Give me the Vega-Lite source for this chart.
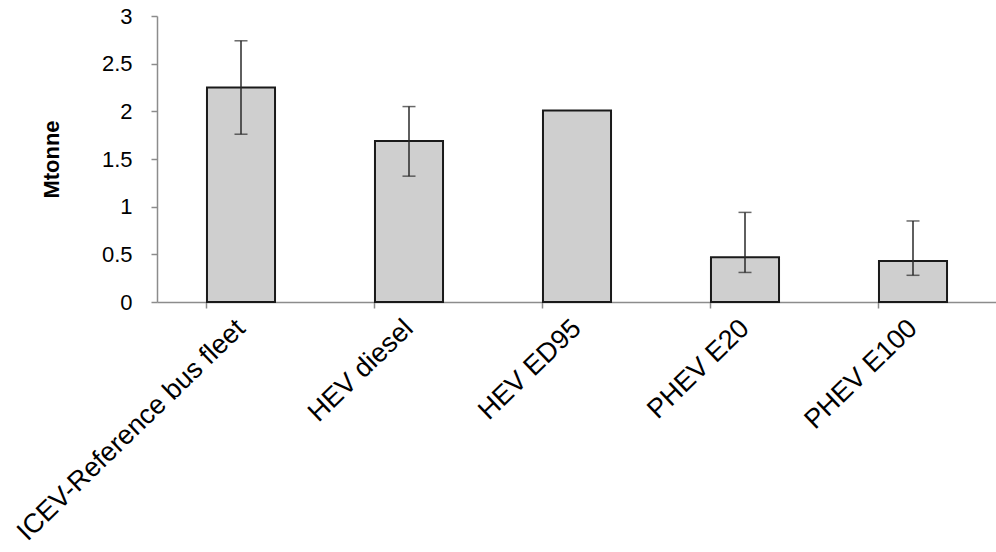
{
  "$schema": "https://vega.github.io/schema/vega-lite/v6.json",
  "autosize": "none",
  "width": 840,
  "height": 286,
  "padding": {"left": 157, "top": 16, "right": 0, "bottom": 250},
  "background": "white",
  "config": {
    "view": {"stroke": null},
    "font": "Liberation Sans",
    "axis": {"grid": false, "domainColor": "#8c8c8c", "tickColor": "#8c8c8c", "labelColor": "#000", "labelFont": "Liberation Sans", "titleFont": "Liberation Sans", "domainWidth": 1.5, "tickWidth": 1.5}
  },
  "data": {
    "values": [
      {"cat": "ICEV-Reference bus fleet", "value": 2.25, "lo": 1.76, "hi": 2.74},
      {"cat": "HEV diesel", "value": 1.69, "lo": 1.32, "hi": 2.05},
      {"cat": "HEV ED95", "value": 2.01, "lo": null, "hi": null},
      {"cat": "PHEV E20", "value": 0.47, "lo": 0.31, "hi": 0.94},
      {"cat": "PHEV E100", "value": 0.43, "lo": 0.28, "hi": 0.85}
    ]
  },
  "encoding": {
    "x": {
      "field": "cat", "type": "nominal", "sort": null,
      "scale": {"paddingInner": 0.595, "paddingOuter": 0.2975},
      "axis": {"title": null, "labelAngle": -44, "labelAlign": "right", "labelBaseline": "middle", "labelFontSize": 27, "labelPadding": 16, "tickSize": 6, "bandPosition": 0, "labelBound": false, "labelOverlap": false, "labelLimit": 500}
    }
  },
  "layer": [
    {
      "mark": {"type": "bar", "fill": "#cfcfcf", "stroke": "#1a1a1a", "strokeWidth": 2},
      "encoding": {
        "y": {
          "field": "value", "type": "quantitative",
          "scale": {"domain": [0, 3], "nice": false},
          "axis": {"title": "Mtonne", "titleFontSize": 22, "titleFontWeight": "bold", "titleColor": "#000", "titlePadding": 38, "values": [0, 0.5, 1, 1.5, 2, 2.5, 3], "labelFontSize": 22, "tickSize": 6, "labelPadding": 19, "format": "~g"}
        }
      }
    },
    {
      "transform": [{"filter": "datum.lo != null"}],
      "mark": {"type": "rule", "color": "#2a2a2a", "strokeWidth": 1.5},
      "encoding": {"y": {"field": "lo", "type": "quantitative"}, "y2": {"field": "hi"}}
    },
    {
      "transform": [{"filter": "datum.lo != null"}],
      "mark": {"type": "tick", "color": "#2a2a2a", "thickness": 1.5, "size": 13, "orient": "horizontal"},
      "encoding": {"y": {"field": "hi", "type": "quantitative"}}
    },
    {
      "transform": [{"filter": "datum.lo != null"}],
      "mark": {"type": "tick", "color": "#2a2a2a", "thickness": 1.5, "size": 13, "orient": "horizontal"},
      "encoding": {"y": {"field": "lo", "type": "quantitative"}}
    }
  ]
}
